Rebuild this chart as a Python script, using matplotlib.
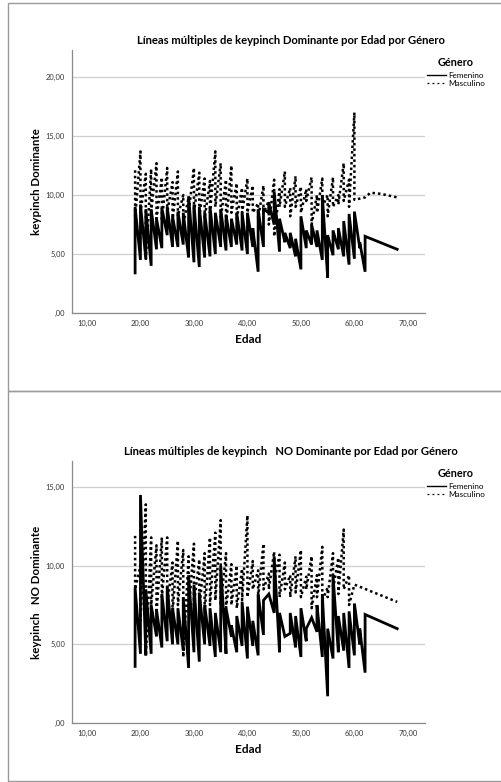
import matplotlib
matplotlib.use("Agg")
import matplotlib.pyplot as plt
from matplotlib.patches import Rectangle
from matplotlib.ticker import FuncFormatter

plt.rcParams['font.family'] = ['Lato', 'DejaVu Sans']

# ---------- keypinch Dominante ----------
# Femenino: edad, valor bajo y valor alto de cada edad
edad_fem_dom = [19, 20, 21, 22, 23, 24, 25, 26, 27, 28, 29, 30, 31, 32, 33, 34, 35, 36,
                37, 38, 39, 40, 41, 42, 43, 44, 45, 46, 47, 48, 49, 50, 51, 52, 53, 54,
                55, 56, 57, 58, 59, 60, 61, 62, 68]
bajo_fem_dom = [3.4, 4.5, 4.6, 4.0, 5.4, 5.5, 6.6, 5.6, 5.6, 5.8, 4.7, 4.3, 3.9, 4.7, 4.8,
                5.0, 5.6, 5.3, 5.6, 5.8, 5.3, 5.0, 5.6, 3.5, 5.6, 8.5, 7.5, 5.2, 6.0, 5.5,
                4.8, 3.7, 5.5, 5.8, 5.6, 4.5, 3.0, 4.9, 5.4, 4.8, 4.1, 4.6, 5.5, 3.5, 5.4]
alto_fem_dom = [9.0, 9.2, 8.8, 8.8, 8.0, 8.9, 9.0, 8.2, 8.6, 8.5, 9.9, 9.2, 9.0, 8.5, 9.0,
                8.5, 8.8, 8.3, 8.0, 8.5, 8.5, 8.5, 7.2, 8.8, 8.8, 9.3, 10.3, 8.0, 6.8, 6.8,
                6.3, 8.2, 7.0, 7.5, 7.0, 10.0, 6.6, 7.0, 7.2, 7.8, 8.4, 8.6, 6.0, 6.5, 5.4]

# Masculino
edad_mas_dom = [19, 20, 21, 22, 23, 24, 25, 26, 27, 28, 29, 30, 31, 32, 33, 34, 35, 36,
                37, 38, 39, 40, 41, 42, 43, 44, 45, 46, 47, 48, 49, 50, 51, 52, 53, 54,
                55, 56, 57, 58, 59, 60, 62, 63, 65, 68]
alto_mas_dom = [12.1, 13.7, 11.8, 12.2, 12.7, 11.5, 12.3, 11.1, 12.0, 10.0, 9.8, 12.3,
                11.9, 11.4, 11.2, 13.7, 12.7, 11.3, 12.5, 11.0, 10.6, 11.4, 10.8, 9.3,
                10.8, 9.5, 11.3, 10.5, 12.0, 10.6, 11.6, 10.7, 10.5, 11.5, 10.0, 11.4,
                10.0, 11.5, 10.0, 12.7, 11.3, 17.0, 9.8, 10.2, 10.1, 9.8]
bajo_mas_dom = [8.0, 8.5, 4.5, 8.6, 8.0, 7.8, 8.5, 7.8, 8.2, 7.5, 8.5, 8.5, 8.2, 8.0,
                8.5, 9.0, 8.0, 7.5, 8.5, 8.0, 8.5, 8.5, 8.5, 8.0, 8.5, 7.5, 6.5, 9.0,
                9.0, 8.2, 9.0, 8.5, 9.5, 7.5, 8.5, 9.0, 8.2, 9.0, 9.2, 9.5, 9.0, 9.6,
                9.8, 10.2, 10.1, 9.8]

# ---------- keypinch NO Dominante ----------
edad_fem_nodom = [19, 20, 21, 22, 23, 24, 25, 26, 27, 28, 29, 30, 31, 32, 33, 34, 35, 36,
                  37, 38, 39, 40, 41, 42, 43, 44, 45, 46, 47, 48, 49, 50, 51, 52, 53, 54,
                  55, 56, 57, 58, 59, 60, 61, 62, 68]
bajo_fem_nodom = [3.6, 4.4, 4.3, 4.4, 5.5, 4.8, 5.2, 5.0, 5.0, 4.6, 3.5, 4.5, 3.9, 5.0,
                  4.9, 4.2, 4.5, 4.4, 5.5, 4.5, 4.9, 4.1, 4.9, 4.3, 5.6, 8.2, 7.0, 4.5,
                  5.5, 5.7, 4.8, 4.2, 5.2, 6.7, 5.8, 4.2, 1.7, 4.1, 4.5, 4.6, 3.5, 4.3,
                  5.0, 3.2, 6.0]
alto_fem_nodom = [8.6, 14.5, 8.5, 7.5, 7.2, 8.2, 8.7, 7.3, 7.3, 8.0, 9.4, 8.8, 8.3, 7.5,
                  7.3, 7.0, 10.0, 7.3, 6.2, 6.8, 7.7, 7.4, 6.5, 8.2, 7.8, 8.2, 10.6, 7.0,
                  5.5, 7.0, 6.8, 7.3, 6.0, 6.7, 7.5, 8.2, 6.0, 9.4, 6.8, 7.0, 7.1, 7.6,
                  6.0, 6.9, 6.0]

edad_mas_nodom = [19, 20, 21, 22, 23, 24, 25, 26, 27, 28, 29, 30, 31, 32, 33, 34, 35, 36,
                  37, 38, 39, 40, 41, 42, 43, 44, 45, 46, 47, 48, 49, 50, 51, 52, 53, 54,
                  55, 56, 57, 58, 59, 60, 68]
alto_mas_nodom = [11.9, 10.0, 13.9, 11.8, 11.3, 11.8, 11.8, 10.2, 11.6, 11.0, 10.6, 11.4,
                  10.4, 10.8, 11.8, 12.1, 12.9, 10.8, 10.1, 10.0, 9.8, 13.2, 10.3, 9.7,
                  11.4, 9.5, 10.9, 10.7, 10.2, 9.4, 10.6, 11.0, 9.3, 10.6, 9.4, 11.2,
                  8.6, 10.8, 10.5, 12.3, 9.4, 8.8, 7.7]
bajo_mas_nodom = [8.5, 6.5, 4.3, 7.5, 7.0, 8.0, 7.5, 7.0, 7.5, 4.2, 7.0, 7.5, 7.2, 7.0,
                  7.5, 7.8, 7.5, 7.3, 7.5, 7.3, 7.8, 8.0, 8.5, 8.0, 8.5, 8.5, 9.0, 8.0,
                  8.5, 8.0, 8.3, 8.0, 8.5, 7.3, 8.0, 7.8, 8.0, 8.5, 8.2, 8.5, 7.5, 8.8,
                  7.7]


def sierra(edades, primero, segundo):
    # each age contributes two cases, drawn in data order (vertical stroke per age)
    xs, ys = [], []
    for e, a, b in zip(edades, primero, segundo):
        xs += [e, e]
        ys += [a, b]
    return xs, ys


W, H = 502, 782
fig = plt.figure(figsize=(W / 100, H / 100), dpi=100)

# panel frames
for top, bot in [(3, 391), (391, 781)]:
    fig.add_artist(Rectangle((8 / W, 1 - bot / H), (W - 8) / W, (bot - top) / H,
                             transform=fig.transFigure, fill=False,
                             edgecolor='#9a9a9a', lw=1.0))


def spss_fmt(v, pos):
    s = f"{v:.2f}".replace('.', ',')
    return s[1:] if s.startswith('0,') else s


def panel(rect, fem, mas, title, ylabel, ymax, yticks):
    ax = fig.add_axes(rect)
    xf, yf = sierra(*fem)
    xm, ym = sierra(*mas)
    ax.plot(xf, yf, color='black', lw=2.0, ls='-', label='Femenino',
            solid_joinstyle='miter')
    ax.plot(xm, ym, color='black', lw=1.8, ls=(0, (1, 1.2)), label='Masculino')
    ax.set_xlim(7.2, 73.2)
    ax.set_ylim(0, ymax)
    ax.set_xticks([10, 20, 30, 40, 50, 60, 70])
    ax.set_yticks(yticks)
    ax.xaxis.set_major_formatter(FuncFormatter(spss_fmt))
    ax.yaxis.set_major_formatter(FuncFormatter(spss_fmt))
    ax.tick_params(length=0, labelsize=5.4, colors='#333333', pad=5)
    ax.grid(axis='y', color='#cfcfcf', lw=0.9)
    ax.set_axisbelow(True)
    for s in ['top', 'right']:
        ax.spines[s].set_visible(False)
    for s in ['left', 'bottom']:
        ax.spines[s].set_color('#8a8a8a')
        ax.spines[s].set_linewidth(0.9)
    ax.set_title(title, fontsize=8.1, fontweight='bold', x=0.62, pad=4)
    ax.set_xlabel('Edad', fontsize=8.5, fontweight='bold', labelpad=5)
    ax.set_ylabel(ylabel, fontsize=8.3, fontweight='bold', labelpad=3)
    leg = ax.legend(loc='upper left', bbox_to_anchor=(0.995, 0.99), frameon=False,
                    title='Género', fontsize=5.9, handlelength=2.3,
                    handletextpad=0.2, borderpad=0, labelspacing=0.15,
                    title_fontproperties={'weight': 'bold', 'size': 7.8})
    leg._legend_box.sep = 3
    hf, hm = leg.get_lines()
    hf.set_linewidth(1.0)
    hm.set_linewidth(0.9)
    hm.set_linestyle((0, (1.5, 2.5)))
    return ax


panel([72 / W, 1 - 313 / H, 353 / W, 263 / H],
      (edad_fem_dom, bajo_fem_dom, alto_fem_dom),
      (edad_mas_dom, alto_mas_dom, bajo_mas_dom),
      'Líneas múltiples de keypinch Dominante por Edad por Género',
      'keypinch Dominante', 22.3, [0, 5, 10, 15, 20])

panel([72 / W, 1 - 723 / H, 353 / W, 262 / H],
      (edad_fem_nodom, bajo_fem_nodom, alto_fem_nodom),
      (edad_mas_nodom, alto_mas_nodom, bajo_mas_nodom),
      'Líneas múltiples de keypinch   NO Dominante por Edad por Género',
      'keypinch   NO Dominante', 16.66, [0, 5, 10, 15])

fig.savefig('out.png', dpi=100)
